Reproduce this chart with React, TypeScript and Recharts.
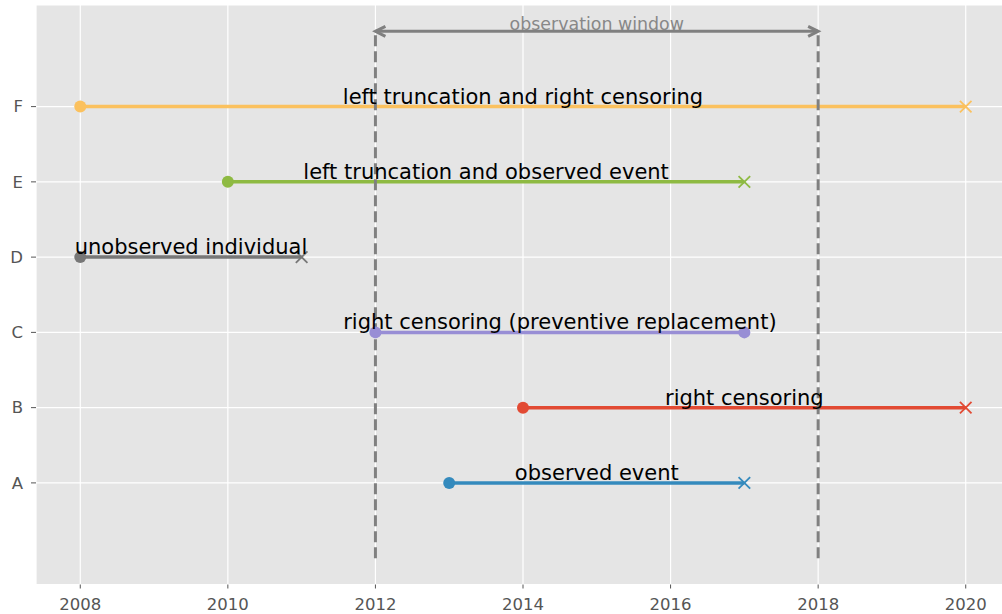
import React from 'react';
import { ComposedChart, Line, XAxis, YAxis, CartesianGrid, ReferenceDot } from 'recharts';

const subjects = ['A', 'B', 'C', 'D', 'E', 'F'];
const starts = [2013, 2014, 2012, 2008, 2010, 2008];
const ends = [2017, 2020, 2017, 2011, 2017, 2020];
const endMarkers = ['x', 'x', 'o', 'x', 'x', 'x'];
const labels = [
  'observed event',
  'right censoring',
  'right censoring (preventive replacement)',
  'unobserved individual',
  'left truncation and observed event',
  'left truncation and right censoring',
];
const colors = ['#348ABD', '#E24A33', '#988ED5', '#777777', '#8EBA42', '#FBC15E'];
const xTicks = [2008, 2010, 2012, 2014, 2016, 2018, 2020];
const yTicks = [0, 1, 2, 3, 4, 5];
const windowStart = 2012;
const windowEnd = 2018;
const windowBottom = -1;
const windowTop = 6;
const windowLabel = 'observation window';

const FONT = '"DejaVu Sans", sans-serif';
const GRAY = '#808080';

const makeDot = (color: string, endMarker: string) => (props: any) => {
  const { cx, cy, index } = props;
  const kind = index === 0 ? 'o' : endMarker;
  if (kind === 'o') {
    return <circle key={`d${index}`} cx={cx} cy={cy} r={6} fill={color} stroke="none" />;
  }
  const s = 5.8;
  return (
    <g key={`d${index}`}>
      <line x1={cx - s} y1={cy - s} x2={cx + s} y2={cy + s} stroke={color} strokeWidth={1.8} />
      <line x1={cx - s} y1={cy + s} x2={cx + s} y2={cy - s} stroke={color} strokeWidth={1.8} />
    </g>
  );
};

const arrowDot = (props: any) => {
  const { cx, cy, index } = props;
  const dir = index === 0 ? 1 : -1;
  return (
    <polyline
      key={`a${index}`}
      points={`${cx + dir * 10},${cy - 5} ${cx},${cy} ${cx + dir * 10},${cy + 5}`}
      fill="none"
      stroke={GRAY}
      strokeWidth={3}
      strokeLinejoin="miter"
    />
  );
};

export default function App() {
  return (
    <div style={{ position: 'fixed', left: 0, top: 0, width: 1002, height: 614, overflow: 'hidden', background: '#fff' }}>
      <ComposedChart
        width={1010}
        height={614}
        margin={{ top: 5, right: 0, bottom: 0, left: 0 }}
        style={{ fontFamily: FONT }}
      >
        <CartesianGrid fill="#E5E5E5" stroke="#ffffff" strokeWidth={1.2} />
        <XAxis
          type="number"
          dataKey="x"
          domain={[2007.4, 2020.6]}
          ticks={xTicks}
          allowDataOverflow
          axisLine={false}
          tickLine={{ stroke: '#555555', strokeWidth: 1 }}
          tickSize={4}
          tickMargin={10}
          height={29.5}
          tick={{ fill: '#555555', fontSize: 16.5, fontFamily: FONT }}
        />
        <YAxis
          type="number"
          dataKey="y"
          domain={[-1.35, 6.35]}
          ticks={yTicks}
          allowDataOverflow
          axisLine={false}
          tickLine={{ stroke: '#555555', strokeWidth: 1 }}
          tickSize={5}
          tickMargin={8}
          width={36}
          tickFormatter={(v: number) => subjects[v] ?? ''}
          tick={{ fill: '#555555', fontSize: 16.5, fontFamily: FONT }}
        />
        {subjects.map((s, i) => (
          <Line
            key={s}
            data={[
              { x: starts[i], y: i },
              { x: ends[i], y: i },
            ]}
            dataKey="y"
            stroke={colors[i]}
            strokeWidth={3.5}
            dot={makeDot(colors[i], endMarkers[i])}
            activeDot={false}
            isAnimationActive={false}
          />
        ))}
        {subjects.map((s, i) => (
          <ReferenceDot
            key={`lbl${s}`}
            x={(starts[i] + ends[i]) / 2}
            y={i}
            r={0}
            ifOverflow="visible"
            shape={(p: any) => (
              <text
                x={p.cx}
                y={p.cy - 3}
                textAnchor="middle"
                fontSize={21}
                fontFamily={FONT}
                fill="#000000"
              >
                {labels[i]}
              </text>
            )}
          />
        ))}
        <Line
          data={[
            { x: windowStart, y: windowBottom },
            { x: windowStart, y: windowTop },
          ]}
          dataKey="y"
          stroke={GRAY}
          strokeWidth={3}
          strokeDasharray="11 5"
          dot={false}
          activeDot={false}
          isAnimationActive={false}
        />
        <Line
          data={[
            { x: windowEnd, y: windowBottom },
            { x: windowEnd, y: windowTop },
          ]}
          dataKey="y"
          stroke={GRAY}
          strokeWidth={3}
          strokeDasharray="11 5"
          dot={false}
          activeDot={false}
          isAnimationActive={false}
        />
        <Line
          data={[
            { x: windowStart, y: windowTop },
            { x: windowEnd, y: windowTop },
          ]}
          dataKey="y"
          stroke={GRAY}
          strokeWidth={3}
          dot={arrowDot}
          activeDot={false}
          isAnimationActive={false}
        />
        <ReferenceDot
          x={(windowStart + windowEnd) / 2}
          y={windowTop}
          r={0}
          ifOverflow="visible"
          shape={(p: any) => (
            <text
              x={p.cx}
              y={p.cy - 1.5}
              textAnchor="middle"
              fontSize={17.4}
              fontFamily={FONT}
              fill="#888888"
            >
              {windowLabel}
            </text>
          )}
        />
      </ComposedChart>
    </div>
  );
}
